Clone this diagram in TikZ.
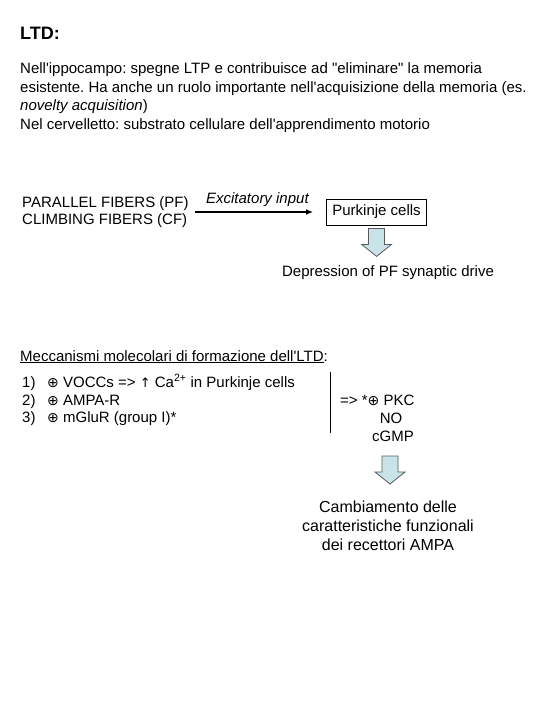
\documentclass[tikz,border=0pt]{standalone}
\usepackage{fontspec}
\setmainfont{Liberation Sans}
\newfontfamily\symf{DejaVu Sans}
\usetikzlibrary{arrows.meta,calc}
\definecolor{arrowfill}{RGB}{200,228,232}
\definecolor{arrowdraw}{RGB}{90,90,90}
\newcommand{\ap}{\textquotesingle}
\newcommand{\opl}{{\symf\fontsize{14}{12}\selectfont ⊕}}
\frenchspacing
\begin{document}
\begin{tikzpicture}[x=1pt,y=-1pt,
  txt/.style={inner sep=0pt,anchor=base west,font=\fontsize{15}{18.5}\selectfont,align=left},
  ctxt/.style={inner sep=0pt,anchor=base,font=\fontsize{15}{18.5}\selectfont,align=center},
  boxnode/.style={draw,line width=0.8pt,inner xsep=6pt,minimum height=26pt,font=\fontsize{15}{17}\selectfont},
  conn/.style={line width=1.3pt,-{Latex[length=7pt,width=6pt]}},
  barrow/.pic={\draw[fill=arrowfill,draw=arrowdraw,line width=0.8pt]
     (-8,0) -- (8,0) -- (8,16) -- (15,16) -- (0,28) -- (-15,16) -- (-8,16) -- cycle;}
]
\useasboundingbox (0,0) rectangle (540,720);

\node[txt,font=\bfseries\fontsize{18}{20}\selectfont] (ltd) at (20,39) {LTD:};

\node[txt] (intro) at (20,129) {Nell\ap ippocampo: spegne LTP e contribuisce ad \textquotedbl eliminare\textquotedbl\ la memoria\\
esistente. Ha anche un ruolo importante nell\ap acquisizione della memoria (es.\\
\textit{novelty acquisition})\\
Nel cervelletto: substrato cellulare dell\ap apprendimento motorio};

\node[inner sep=0pt,anchor=west,align=left,font=\fontsize{15}{16.5}\selectfont] (fib) at (22,212)
  {PARALLEL FIBERS (PF)\\CLIMBING FIBERS (CF)};

\node[boxnode,anchor=west] (pk) at (326,212) {Purkinje cells};

\draw[conn,shorten <=6pt,shorten >=13pt] (fib.east) -- node[midway,above=5pt,inner sep=0pt,font=\itshape\fontsize{15}{17}\selectfont] (exc) {Excitatory input} (pk.west);

\node[ctxt] (dep) at (388,276) {Depression of PF synaptic drive};
\pic at ($(pk.south)+(0,3)$) {barrow};

\node[txt] (mecc) at (20,361) {\underline{Meccanismi molecolari di formazione dell\ap LTD}:};

\node[txt] (n1) at (22,387) {1)};
\node[txt] (n2) at (22,405) {2)};
\node[txt] (n3) at (22,422) {3)};
\node[txt] (m1) at (47,387) {\opl\ VOCCs => {\symf\fontsize{13}{13}\selectfont ↑} Ca\textsuperscript{2+} in Purkinje cells};
\node[txt] (m2) at (47,405) {\opl\ AMPA-R};
\node[txt] (m3) at (47,422) {\opl\ mGluR (group I)*};

\coordinate (vtop) at (330,372);
\coordinate (vbot) at (330,433);
\draw[line width=0.8pt] (vtop) -- (vbot);

\node[txt] (pkc) at (340,405) {=> *\opl\ PKC};
\node[ctxt] (no) at (391,423) {NO};
\node[ctxt] (cgmp) at (393,441) {cGMP};

\pic at (390,456) {barrow};

\node[ctxt,font=\fontsize{16}{19}\selectfont] (camb) at (388,550)
  {Cambiamento delle\\caratteristiche funzionali\\dei recettori AMPA};
\end{tikzpicture}
\end{document}
